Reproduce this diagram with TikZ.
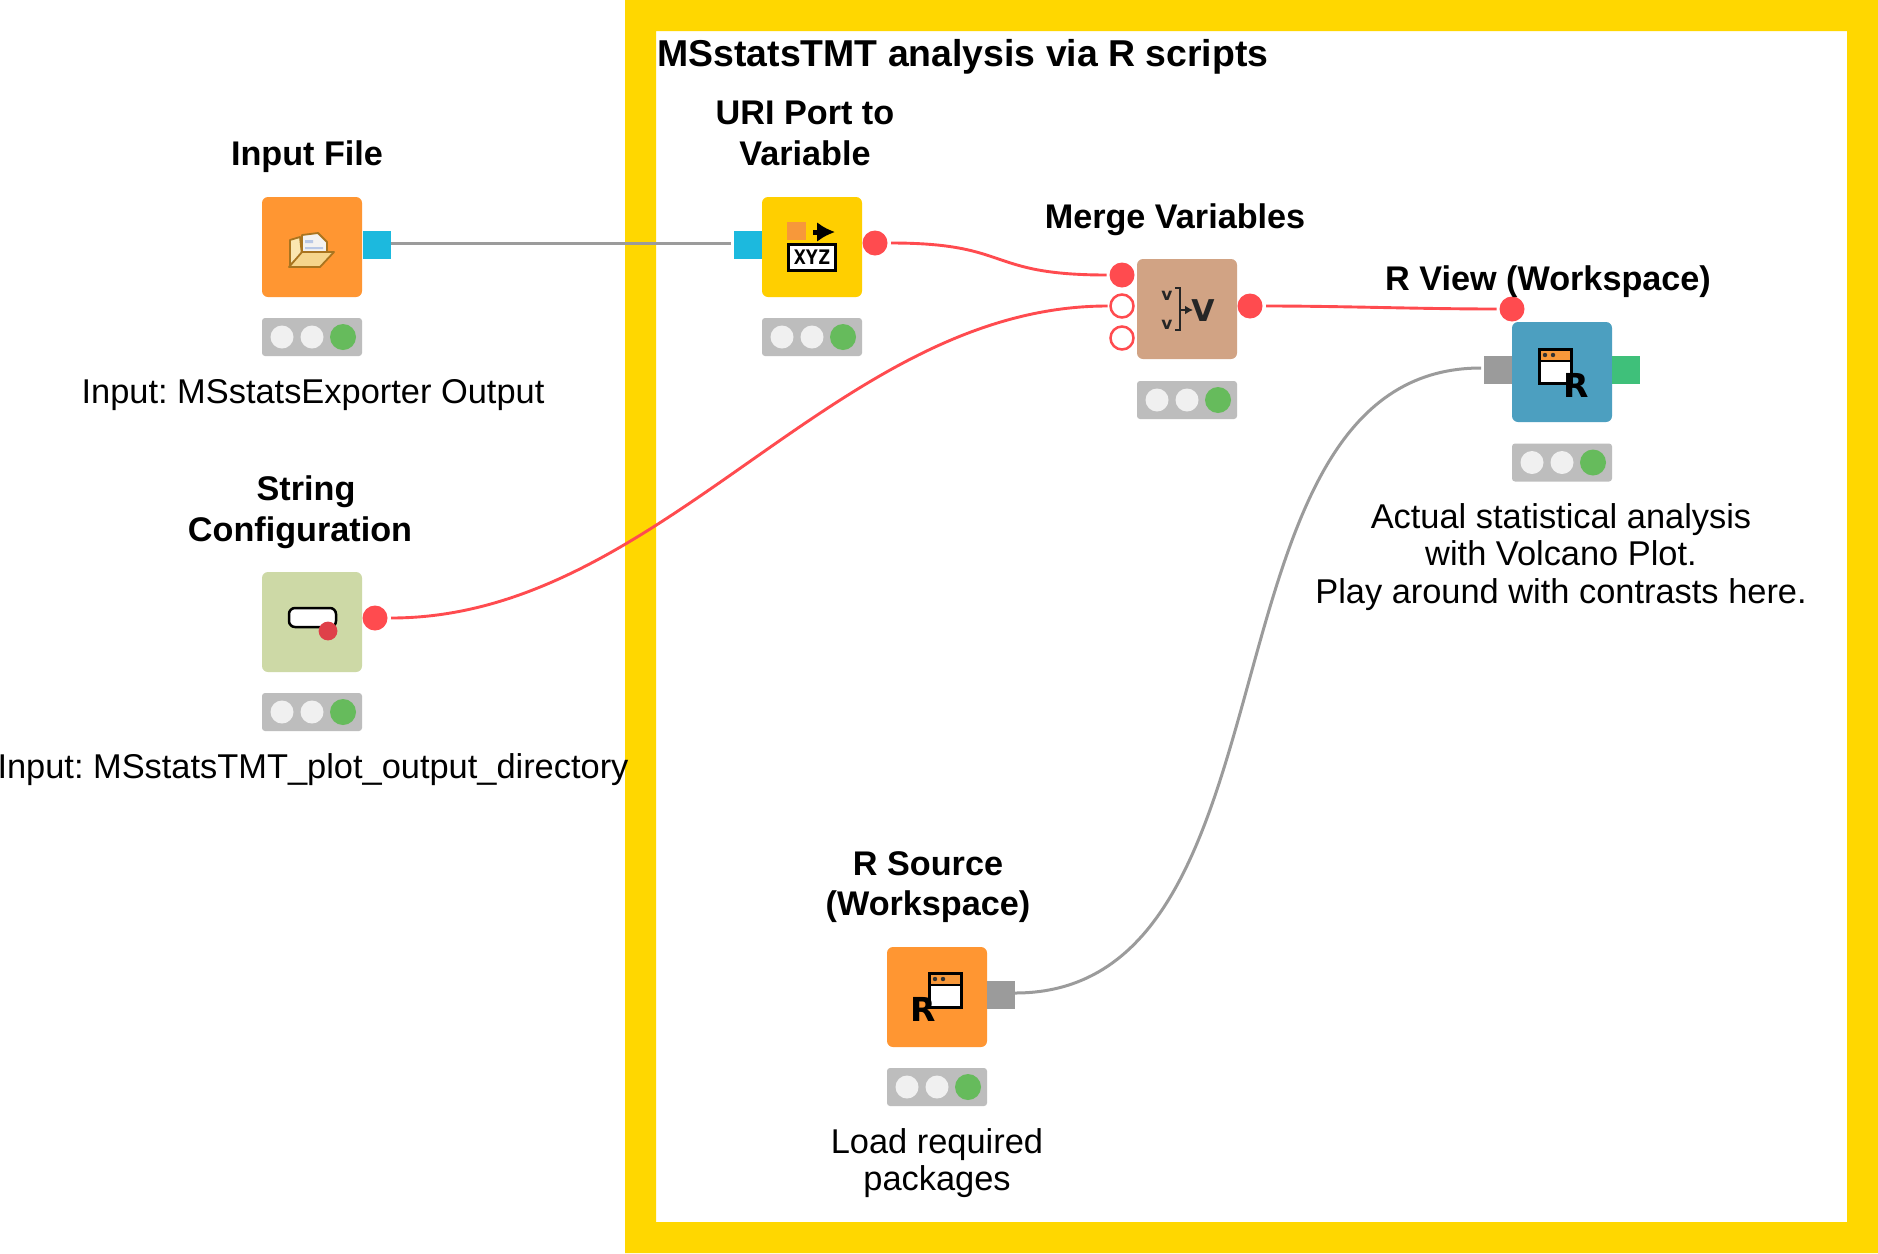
\documentclass[tikz,border=0pt]{standalone}
\usepackage{fontspec}
\setmainfont{Liberation Sans}
\newfontfamily\heavyfont{DejaVu Sans Bold}
\newfontfamily\xyzfont{DejaVu Sans Mono Bold}
\usetikzlibrary{arrows.meta}
\definecolor{frameY}{HTML}{FFD700}
\definecolor{kOrange}{HTML}{FF9632}
\definecolor{kYellow}{HTML}{FFCF00}
\definecolor{kTan}{HTML}{D1A384}
\definecolor{kBlue}{HTML}{4C9FC0}
\definecolor{kSage}{HTML}{CDD9A6}
\definecolor{pCyan}{HTML}{1CB9DE}
\definecolor{pGrey}{HTML}{9B9B9B}
\definecolor{pGreen}{HTML}{3FC07A}
\definecolor{vRed}{HTML}{FF4B4F}
\definecolor{stBg}{HTML}{BDBDBD}
\definecolor{stOff}{HTML}{F0F0F0}
\definecolor{stOn}{HTML}{66BB5C}
\definecolor{winOrange}{HTML}{F7983A}
\definecolor{dotRed}{HTML}{DF4049}
\definecolor{fOutline}{HTML}{A9741F}
\definecolor{fFront}{HTML}{F6D58C}
\definecolor{fBack}{HTML}{FBE6B0}
\definecolor{fPaper}{HTML}{F4F2F0}
\definecolor{fBar}{HTML}{B9C8E6}
\tikzset{
  x=0.5pt,y=-0.5pt,
  knode/.style={minimum size=50pt,inner sep=0pt,outer sep=0pt,rounded corners=3pt,fill=#1},
  sqport/.style={minimum size=14pt,inner sep=0pt,outer sep=0pt,fill=#1},
  varport/.style={circle,minimum size=12.5pt,inner sep=0pt,outer sep=0pt,fill=vRed},
  openport/.style={circle,minimum size=11.5pt,inner sep=0pt,outer sep=0pt,fill=white,draw=vRed,line width=1.25pt},
  status/.style={minimum width=50pt,minimum height=19pt,inner sep=0pt,outer sep=0pt,rounded corners=1.5pt,fill=stBg},
  lampoff/.style={circle,minimum size=11.5pt,inner sep=0pt,outer sep=0pt,fill=stOff},
  lampon/.style={circle,minimum size=13pt,inner sep=0pt,outer sep=0pt,fill=stOn},
  title/.style={inner sep=0pt,align=center,font=\fontsize{17.1}{20.4}\selectfont\bfseries\frenchspacing},
  note/.style={inner sep=0pt,align=center,font=\fontsize{17.2}{18.85}\selectfont\frenchspacing},
  dataline/.style={draw=pGrey,line width=1.5pt,shorten >=1.5pt},
  flowline/.style={draw=vRed,line width=1.45pt,shorten <=1.75pt,shorten >=1.5pt},
  winbox/.style={fill=white,draw=black,line width=1.5pt},
}
\newcommand{\traffic}[3]{%
  \node[status] (#1) at (#2,#3) {};
  \node[lampoff] (#1a) at (#2-30,#3) {};
  \node[lampoff] (#1b) at (#2,#3) {};
  \node[lampon] (#1c) at (#2+31,#3) {};
}
\newcommand{\rwindow}[2]{%
  \begin{scope}[shift={(#1,#2)}]
    \fill[white] (0,0) rectangle (32,34);
    \fill[winOrange] (0,0) rectangle (32,11);
    \draw[winbox,fill=none] (0,0) rectangle (32,34);
    \draw[black,line width=1.1pt] (0,12) -- (32,12);
    \fill[black!80] (6,6) circle (1.1pt) (14,6) circle (1.1pt);
  \end{scope}%
}
\begin{document}
\begin{tikzpicture}
\useasboundingbox (0,0) rectangle (1878,1253);
% frame
\fill[white] (0,0) rectangle (1878,1253);
\fill[frameY,even odd rule] (625,0) rectangle (1878,1253) (656,31) rectangle (1847,1222);
\node[title,anchor=west,font=\fontsize{18.7}{22}\selectfont\bfseries] (frameTitle) at (657,57) {MSstatsTMT analysis via R scripts};

% nodes
\node[knode=kOrange] (inputFile) at (312,247) {};
\node[sqport=pCyan] (inputFileOut) at (377,245) {};
\traffic{inputFileSt}{312}{337}
\node[knode=kYellow] (uri) at (812,247) {};
\node[sqport=pCyan] (uriIn) at (748,245) {};
\node[varport] (uriOut) at (875,243) {};
\traffic{uriSt}{812}{337}
\node[knode=kTan] (merge) at (1187,309) {};
\node[varport] (mergeIn1) at (1122,275) {};
\node[openport] (mergeIn2) at (1122,306) {};
\node[openport] (mergeIn3) at (1122,338) {};
\node[varport] (mergeOut) at (1250,306) {};
\traffic{mergeSt}{1187}{400}
\node[knode=kBlue] (rview) at (1562,372) {};
\node[varport] (rviewVar) at (1512,309) {};
\node[sqport=pGrey] (rviewIn) at (1498,370) {};
\node[sqport=pGreen] (rviewOut) at (1626,370) {};
\traffic{rviewSt}{1562}{462.5}
\node[knode=kOrange] (rsource) at (937,997) {};
\node[sqport=pGrey] (rsourceOut) at (1001,995) {};
\traffic{rsourceSt}{937}{1087}
\node[knode=kSage] (strconf) at (312,622) {};
\node[varport] (strconfOut) at (375,618) {};
\traffic{strconfSt}{312}{712}

% icon: folder
\begin{scope}[line join=round]
  \fill[fPaper,draw=fOutline,line width=.9pt] (302,235) -- (318,233) -- (327,242) -- (327,252) -- (302,252) -- cycle;
  \fill[fBar] (305,240) rectangle (313,243) (305,247) rectangle (323,249);
  \fill[fBack,draw=fOutline,line width=.9pt] (290,240) -- (300,237) -- (302,255) -- (290,265) -- cycle;
  \fill[fFront,draw=fOutline,line width=.9pt] (302,252) -- (334,252) -- (320,267) -- (289,267) -- cycle;
\end{scope}
% icon: URI
\fill[winOrange] (787,222) rectangle (806,240);
\draw[-{Latex[length=9pt,width=10pt]},line width=2.5pt,black] (813,232) -- (835,232);
\node[draw=black,fill=white,line width=1.5pt,minimum width=23.5pt,minimum height=13pt,inner sep=0pt,font=\fontsize{10}{10}\xyzfont] (uriIcon) at (812,257.5) {XYZ};
% icon: merge
\node[inner sep=0pt,font=\fontsize{8.5}{9}\heavyfont,text=black!85] (mv1) at (1167,296) {v};
\node[inner sep=0pt,font=\fontsize{8.5}{9}\heavyfont,text=black!85] (mv2) at (1167,325) {v};
\draw[black!85,line width=1.1pt] (1175,288) -- (1180,288) -- (1180,330) -- (1175,330);
\draw[-{Latex[length=4pt,width=4.5pt]},black!85,line width=1pt] (1180,310) -- (1193,310);
\node[inner sep=0pt,font=\fontsize{15}{15}\heavyfont,text=black!85] (mv3) at (1203,311) {V};
% icon: R view
\rwindow{1539}{349}
\node[inner sep=0pt,font=\fontsize{16.5}{17}\heavyfont] (rviewR) at (1576,385) {R};
% icon: R source
\rwindow{929}{973}
\node[inner sep=0pt,font=\fontsize{16.5}{17}\heavyfont] (rsourceR) at (923,1009) {R};
% icon: string
\draw[fill=white,draw=black,line width=1.25pt,rounded corners=3pt] (289,608) rectangle (336,627);
\fill[dotRed] (328,631) circle (4.7pt);

% connectors
\draw[dataline] ([yshift=1pt]inputFileOut.east) -- ([yshift=1pt]uriIn.west);
\draw[flowline] (uriOut.east) .. controls +(125,0) and +(-125,0) .. (mergeIn1.west);
\draw[flowline] (strconfOut.east) .. controls +(275,0) and +(-275,0) .. (mergeIn2.west);
\draw[flowline] (mergeOut.east) .. controls +(80,0) and +(-80,0) .. (rviewVar.west);
\draw[dataline] ([yshift=1pt]rsourceOut.east) .. controls +(295,0) and +(-295,0) .. ([yshift=1pt]rviewIn.west);

% labels
\node[title] (lInput) at (307,157) {Input File};
\node[title] (lUri) at (805,133) {URI Port to\\Variable};
\node[title] (lMerge) at (1175,220) {Merge Variables};
\node[title] (lRview) at (1548,282) {R View (Workspace)};
\node[title] (lString) at (300,512) {\hspace*{6pt}String\\Configuration};
\node[title] (lRsource) at (928,887) {R Source\\(Workspace)};
\node[note] (nInput) at (313,395) {Input: MSstatsExporter Output};
\node[note] (nString) at (313,770) {Input: MSstatsTMT\_plot\_output\_directory};
\node[note] (nRview) at (1561,557) {Actual statistical analysis\\with Volcano Plot.\\Play around with contrasts here.};
\node[note] (nRsource) at (937,1163) {Load required\\packages};
\end{tikzpicture}
\end{document}
